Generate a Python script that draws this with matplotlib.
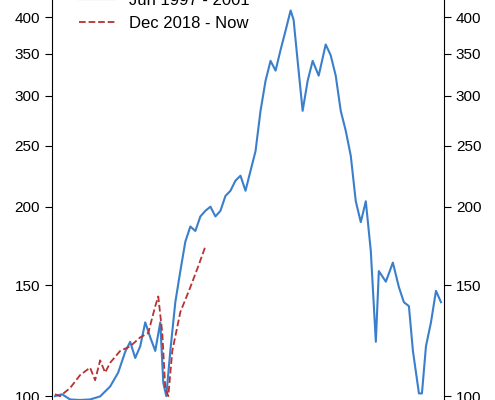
import matplotlib
matplotlib.use("Agg")
import matplotlib.pyplot as plt
import numpy as np

plt.rcParams['font.family'] = ['Liberation Sans', 'DejaVu Sans']

# Jun 1997 - 2001 (index values, relative time step)
blue_t = [0, 7, 15, 25, 35, 45, 55, 63, 70, 75, 80, 85, 90, 95, 100, 105, 108, 111, 115, 120,
          125, 130, 135, 140, 145, 150, 155, 160, 165, 170, 175, 180, 185, 190, 195, 200, 205,
          210, 215, 220, 225, 230, 235, 238, 242, 247, 252, 257, 263, 270, 275, 280, 285, 290,
          295, 300, 305, 310, 315, 320, 323, 330, 337, 343, 348, 353, 357, 363, 366, 370, 375,
          380, 385]
blue_v = [100, 100.7, 98.8, 98.6, 98.8, 99.9, 103.6, 109, 117.6, 122, 115, 120, 131, 124, 118,
          131, 105, 100, 118, 141, 158, 176, 186, 183, 193, 197, 200, 193, 197, 208, 212, 220,
          224, 212, 228, 245, 284, 317, 341, 329, 355, 381, 410, 396, 341, 284, 317, 341, 323,
          362, 348, 323, 284, 264, 241, 204, 189, 204, 170, 122, 158, 152, 163, 149, 141, 139,
          118, 101, 101, 120, 131, 147, 141]

# Dec 2018 - Now
red_t = [0, 5, 15, 25, 35, 40, 45, 50, 55, 65, 75, 85, 93, 100, 103, 107, 110, 113, 117, 125,
         135, 143, 150]
red_v = [100.7, 100, 103, 108, 111, 106, 114, 109, 113, 118, 120, 124, 126, 139, 144, 126, 103,
         100, 118, 136, 149, 161, 173]

fig = plt.figure(figsize=(4.95, 4.0), dpi=100)
ax = fig.add_axes([52 / 495, 0, 392 / 495, 1])
ax.plot(blue_t, blue_v, color='#3a7fcc', lw=1.5, label='Jun 1997 - 2001')
ax.plot(red_t, red_v, color='#b83232', lw=1.3, ls='--', label='Dec 2018 - Now')
ax.set_yscale('log')
ax.set_ylim(98.6, 426)
ax.set_xlim(-3, 388)
ticks = [100, 150, 200, 250, 300, 350, 400]
ax.set_yticks(ticks)
ax.set_yticklabels([str(t) for t in ticks])
ax.yaxis.set_minor_locator(matplotlib.ticker.NullLocator())
ax.tick_params(axis='y', which='both', left=True, right=True, labelleft=True,
               labelright=True, labelsize=11, direction='out', length=5)
ax.set_xticks([])
for s in ['top', 'bottom']:
    ax.spines[s].set_visible(False)
ax.legend(loc='upper left', bbox_to_anchor=(0.03, 1.055), frameon=False, fontsize=12,
          handlelength=2.2)
fig.savefig('out.png', dpi=100)
